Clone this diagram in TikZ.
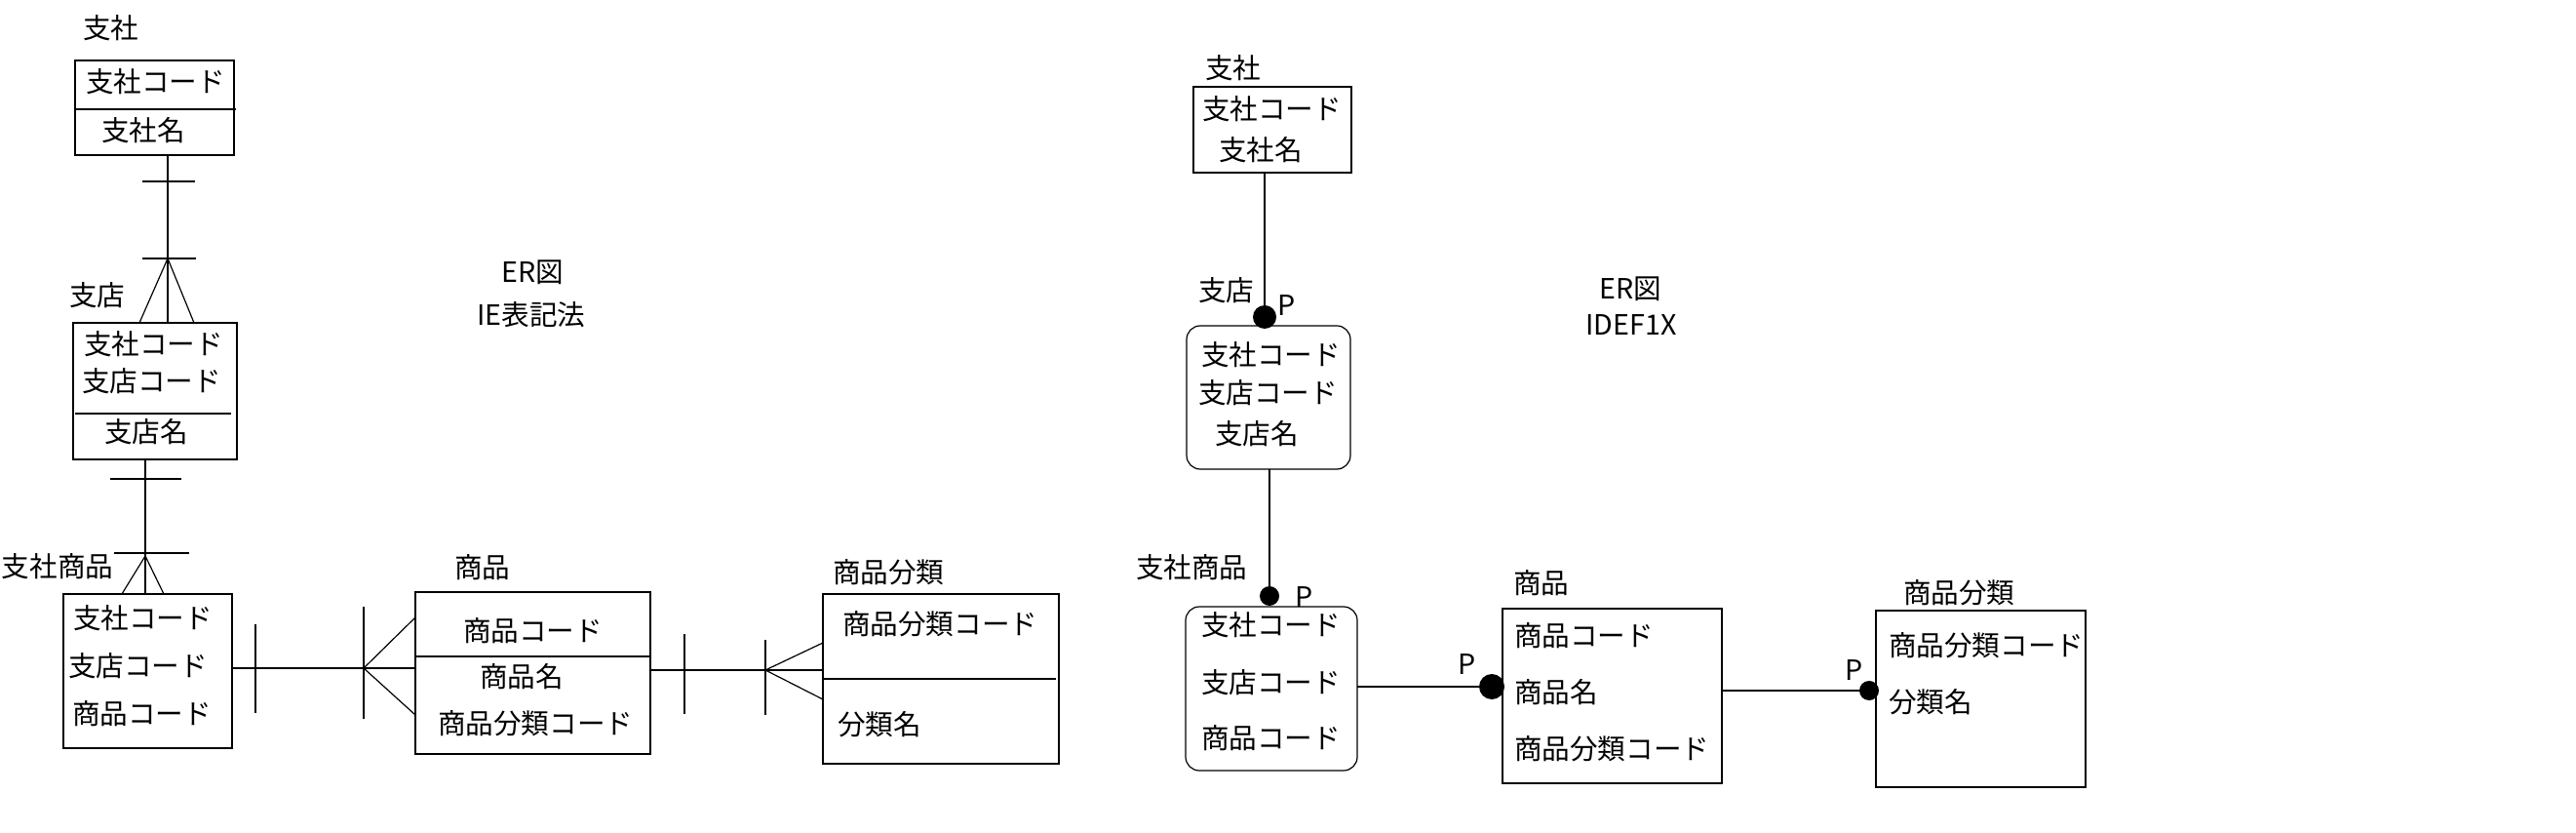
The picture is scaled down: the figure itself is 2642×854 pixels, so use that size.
\documentclass[tikz,border=0pt]{standalone}
\usepackage{fontspec}
\setmainfont{Noto Sans CJK JP}
\begin{document}
\begin{tikzpicture}[x=0.5pt,y=-0.5pt,
  box/.style={draw, line width=0.6pt, inner sep=0pt, outer sep=0pt},
  rbox/.style={box, rounded corners=7pt},
  txt/.style={inner sep=0pt, outer sep=0pt, anchor=west, font=\fontsize{14.3pt}{17pt}\selectfont},
  ctxt/.style={txt, anchor=center},
  ln/.style={line width=0.6pt},
  dot/.style={circle, fill=black, inner sep=0pt, outer sep=0pt}]
\useasboundingbox (0,0) rectangle (2642,854);

% ===== IE notation =====
\node[txt] (lA) at (85,29) {支社};
\node[box, minimum width=81.5pt, minimum height=48.5pt] (ieA) at (158.5,110.5) {};
\draw[ln] (77,112) -- (242,112);
\node[txt] (a1) at (88,84) {支社コード};
\node[txt] (a2) at (104,134) {支社名};

\node[txt] (lB) at (71,303) {支店};
\node[box, minimum width=84pt, minimum height=70pt] (ieB) at (159,401) {};
\draw[ln] (77,424) -- (237,424);
\node[txt] (b1) at (86,353) {支社コード};
\node[txt] (b2) at (84,391) {支店コード};
\node[txt] (b3) at (107,443) {支店名};

\node[txt] (lC) at (2,581) {支社商品};
\node[box, minimum width=86.5pt, minimum height=79pt] (ieC) at (151.5,688) {};
\node[txt] (c1) at (75,634) {支社コード};
\node[txt] (c2) at (70,683) {支店コード};
\node[txt] (c3) at (74,732) {商品コード};

\node[txt] (lD) at (466,582) {商品};
\node[box, minimum width=120.5pt, minimum height=83pt] (ieD) at (546.5,690) {};
\draw[ln] (426,673) -- (667,673);
\node[txt] (d1t) at (475,647) {商品コード};
\node[txt] (d2t) at (492,694) {商品名};
\node[txt] (d3t) at (449,742) {商品分類コード};

\node[txt] (lE) at (854,587) {商品分類};
\node[box, minimum width=121pt, minimum height=87pt] (ieE) at (965,696) {};
\draw[ln] (844,696) -- (1083,696);
\node[txt] (e1) at (864,640) {商品分類コード};
\node[txt] (e2) at (859,743) {分類名};

\node[ctxt] (t1) at (546,279) {ER図};
\node[ctxt] (t2) at (545,323) {IE表記法};

% connectors IE
\coordinate (xa) at (172,0);
\draw[ln] (ieA.south -| xa) -- (ieB.north -| xa);
\draw[ln] (146,186) -- (200,186);
\draw[ln] (146,265) -- (201,265);
\draw[ln] (143,331) -- (172,265) -- (199,331);

\coordinate (xb) at (149,0);
\draw[ln] (ieB.south -| xb) -- (ieC.north -| xb);
\draw[ln] (113,491) -- (186,491);
\draw[ln] (117,567) -- (194,567);
\draw[ln] (125,609) -- (149,570) -- (168,609);

\coordinate (yc) at (0,685);
\draw[ln] (ieC.east |- yc) -- (ieD.west |- yc);
\draw[ln] (262,640) -- (262,731);
\draw[ln] (373,622) -- (373,737);
\draw[ln] (426,633) -- (373,685) -- (426,733);

\coordinate (yd) at (0,687);
\draw[ln] (ieD.east |- yd) -- (ieE.west |- yd);
\draw[ln] (702,650) -- (702,732);
\draw[ln] (785,656) -- (785,733);
\draw[ln] (844,659) -- (785,687) -- (844,717);

% ===== IDEF1X =====
\node[txt] (mA) at (1236,70) {支社};
\node[box, minimum width=81pt, minimum height=44pt] (ixA) at (1305,133) {};
\node[txt] (f1) at (1233,112) {支社コード};
\node[txt] (f2) at (1250,154) {支社名};

\node[txt] (mB) at (1229,298) {支店};
\node[ctxt] (p1) at (1320,313) {P};
\node[rbox, minimum width=84pt, minimum height=73.5pt] (ixB) at (1301,407.5) {};
\node[txt] (g1) at (1232,364) {支社コード};
\node[txt] (g2) at (1229,403) {支店コード};
\node[txt] (g3) at (1246,445) {支店名};

\node[txt] (mC) at (1165,582) {支社商品};
\node[ctxt] (p2) at (1338,612) {P};
\node[rbox, minimum width=88pt, minimum height=84pt] (ixC) at (1304,706) {};
\node[txt] (h1) at (1232,641) {支社コード};
\node[txt] (h2) at (1232,700) {支店コード};
\node[txt] (h3) at (1232,757) {商品コード};

\node[txt] (mD) at (1552,598) {商品};
\node[ctxt] (p3) at (1505,681) {P};
\node[box, minimum width=112.5pt, minimum height=89.5pt] (ixD) at (1653.5,713.5) {};
\node[txt] (i1) at (1553,652) {商品コード};
\node[txt] (i2) at (1553,710) {商品名};
\node[txt] (i3) at (1553,768) {商品分類コード};

\node[txt] (mE) at (1952,608) {商品分類};
\node[ctxt] (p4) at (1902,687) {P};
\node[box, minimum width=107.5pt, minimum height=90.5pt] (ixE) at (2031.5,716.5) {};
\node[txt] (j1) at (1937,662) {商品分類コード};
\node[txt] (j2) at (1937,720) {分類名};

\node[ctxt] (u1) at (1672,296) {ER図};
\node[ctxt] (u2) at (1673,333) {IDEF1X};

% connectors IDEF1X
\node[dot, minimum size=12pt] (dA) at (1297,325) {};
\draw[ln] (ixA.south -| dA) -- (dA);
\node[dot, minimum size=10pt] (dB) at (1302,611) {};
\draw[ln] (ixB.south -| dB) -- (dB);
\node[dot, minimum size=13pt] (dC) at (1530,704) {};
\draw[ln] (ixC.east |- dC) -- (dC);
\node[dot, minimum size=10pt] (dD) at (1917,708) {};
\draw[ln] (ixD.east |- dD) -- (dD);
\end{tikzpicture}
\end{document}
